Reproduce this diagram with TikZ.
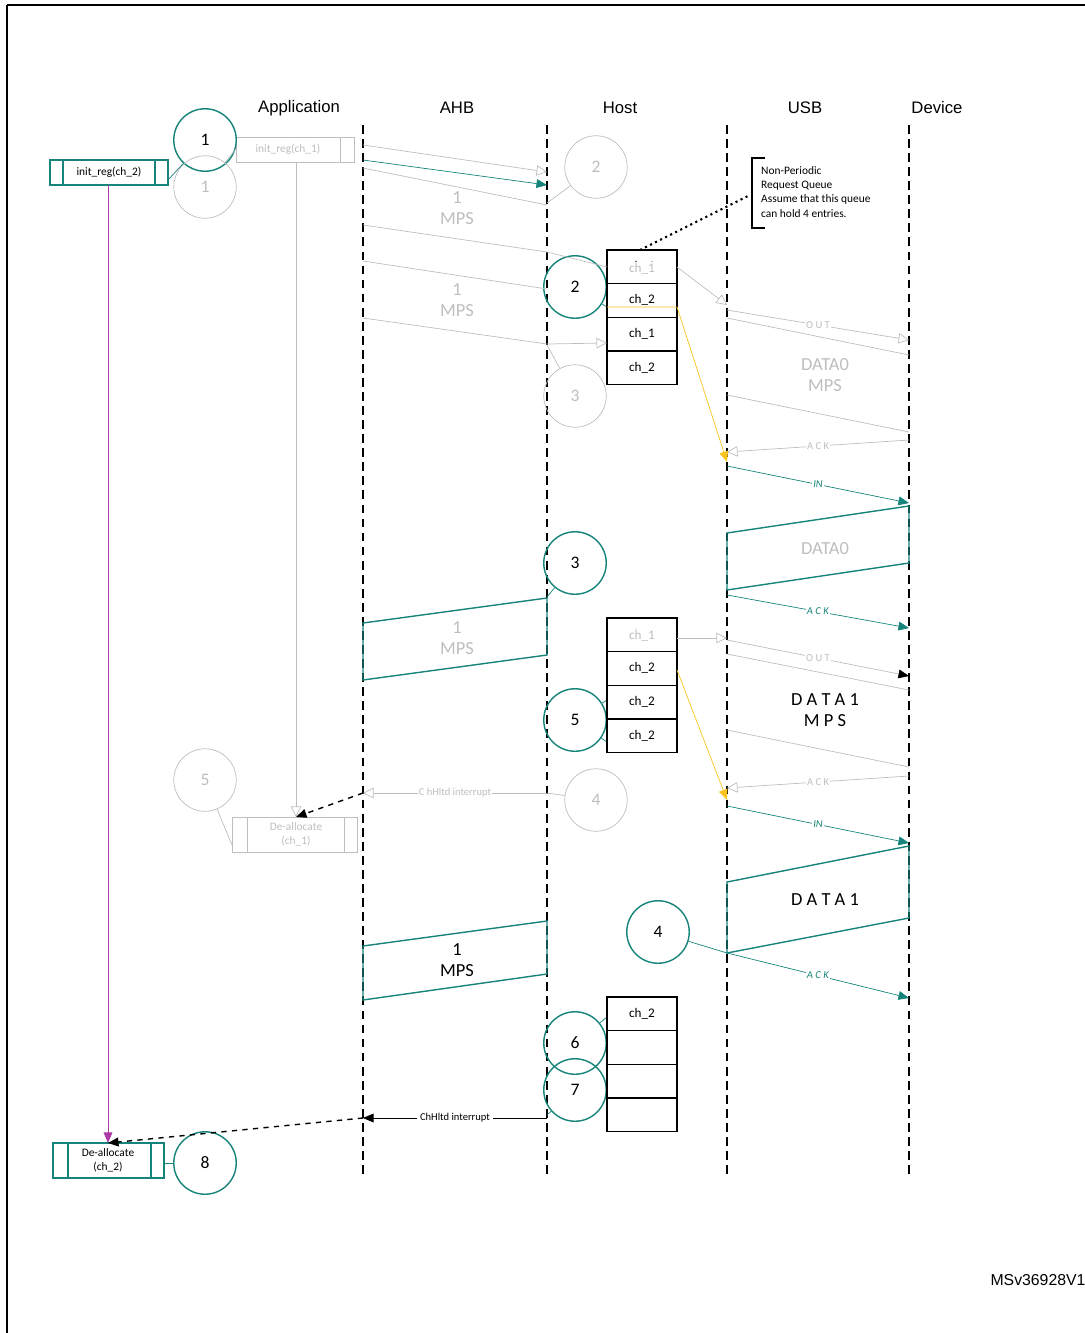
\documentclass[tikz,border=0pt]{standalone}
\usepackage{fontspec}
\setmainfont{Carlito}
\newfontfamily\arialf{Liberation Sans}
\usetikzlibrary{arrows.meta,calc}
\definecolor{teal}{RGB}{22,132,122}
\definecolor{ghost}{RGB}{190,190,190}
\definecolor{amber}{RGB}{250,195,30}
\definecolor{violet}{RGB}{170,60,170}
\tikzset{
  lifeline/.style={line width=1.2pt, dash pattern=on 5pt off 3pt},
  head/.style={font=\arialf\fontsize{9.5}{11}\selectfont},
  tnum/.style={draw=teal, thick, circle, minimum size=1.25cm, inner sep=0pt, font=\fontsize{10}{12}\selectfont},
  gnum/.style={draw=ghost, circle, minimum size=1.25cm, inner sep=0pt, text=ghost, font=\fontsize{10}{12}\selectfont},
  gline/.style={draw=ghost, thin},
  tline/.style={draw=teal, thin},
  gopen/.style={ghost, -{Triangle[open, length=6pt, width=6pt]}},
  tfill/.style={teal, -{Triangle[length=6pt, width=5pt]}},
  qtext/.style={font=\fontsize{7.5}{9}\selectfont},
  btext/.style={font=\fontsize{6.5}{8}\selectfont, align=center},
  mps/.style={font=\fontsize{10.5}{12}\selectfont, align=center, text=ghost},
  msg/.style={font=\fontsize{6}{7}\selectfont, fill=white, inner sep=0.5pt},
}
\begin{document}
\begin{tikzpicture}[x=0.02cm, y=-0.02cm]
  \useasboundingbox (0,0) rectangle (1085,1333);
  % frame
  \draw[thick] (7,5) -- (7,1340);
  \draw[thick] (7,5) -- (1090,5);

  % lifelines
  \foreach \n/\x in {ahbL/363, host/547, usb/727, dev/909} {
    \coordinate (\n t) at (\x,125);
    \coordinate (\n b) at (\x,1175);
    \draw[lifeline] (\n t) -- (\n b);
  }
  \node[head] (hApp) at (299,108) {Application};
  \node[head] (hAhb) at (457,108) {AHB};
  \node[head] (hHost) at (620,108) {Host};
  \node[head] (hUsb) at (805,108) {USB};
  \node[head] (hDev) at (937,108) {Device};

  % application boxes
  \draw[teal, thick] (50,160) rectangle (168,185) (63,160) -- (63,185) (155,160) -- (155,185);
  \node[btext] (init2) at (109,172.5) {init\_reg(ch\_2)};
  \draw[ghost] (236,137) rectangle (354,162) (340,137) -- (340,162);
  \node[btext, text=ghost] (init1) at (288,149.5) {init\_reg(ch\_1)};
  \draw[ghost] (232,817) rectangle (357,852) (247,817) -- (247,852) (344,817) -- (344,852);
  \node[btext, text=ghost] (dealloc1) at (296,834.5) {De-allocate\\(ch\_1)};
  \draw[teal, thick] (53,1143) rectangle (164,1178) (68,1143) -- (68,1178) (151,1143) -- (151,1178);
  \node[btext] (dealloc2) at (108,1160.5) {De-allocate\\(ch\_2)};
  \coordinate (i2bot) at (108,185);
  \coordinate (d2top) at (108,1143);
  \coordinate (i1bot) at (296,162);
  \coordinate (d1top) at (296,817);
  \draw[violet, -{Triangle[length=6pt, width=5pt]}] (i2bot) -- (d2top);
  \draw[gopen] (i1bot) -- (d1top);

  % numbered circles
  \node[tnum] (c1) at (205,140) {1};
  \node[gnum] (g1) at (205,187) {1};
  \node[gnum] (g2) at (596,167) {2};
  \node[tnum] (c2) at (575,287) {2};
  \node[gnum] (g3) at (575,396) {3};
  \node[tnum] (c3) at (575,563) {3};
  \node[tnum] (c5) at (575,720) {5};
  \node[gnum] (g4) at (596,800) {4};
  \node[gnum] (g5) at (205,780) {5};
  \node[tnum] (c4) at (658,932) {4};
  \node[tnum] (c6) at (575,1043) {6};
  \node[tnum] (c7) at (575,1090) {7};
  \node[tnum] (c8) at (205,1163) {8};
  \draw[tline] (c1) -- (168,180);
  \draw[gline] (g1) -- (236,149);
  \draw[gline] (g2) -- (547,203);
  \draw[tline] (c2) -- (607,307);
  \draw[gline] (g3) -- (547,345);
  \draw[tline] (c3) -- (547,597);
  \draw[tline] (c5) -- (607,700);
  \draw[tline] (c5) -- (607,742);
  \draw[gline] (g4) -- (547,793);
  \draw[gline] (g5) -- (232,845);
  \draw[tline] (c4) -- (727,953);
  \draw[tline] (c6) -- (607,1017);
  \draw[tline] (c7) -- (547,1115);
  \draw[tline] (c8) -- (164,1163);

  % request queues
  \foreach \q/\y/\a/\b/\c/\d in {qA/250/ch\_1/ch\_2/ch\_1/ch\_2, qB/618/ch\_1/ch\_2/ch\_2/ch\_2, qC/997/ch\_2///} {
    \draw[thick] (607,\y) rectangle (677,\y+134.5);
    \foreach \k in {1,2,3}
      \draw[thick] (607,\y+33.6*\k) -- (677,\y+33.6*\k);
    \node[qtext] (\q1) at (642,\y+17) {\a};
    \node[qtext] (\q2) at (642,\y+50) {\b};
    \node[qtext] (\q3) at (642,\y+84) {\c};
    \node[qtext] (\q4) at (642,\y+118) {\d};
  }
  \node[qtext, fill=white, text=ghost, inner sep=1pt] at (642,269) {ch\_1};
  \node[qtext, fill=white, text=ghost, inner sep=1pt] at (642,636) {ch\_1};

  % note
  \draw[thick] (765,158) -- (752,158) -- (752,228) -- (765,228);
  \node[font=\fontsize{6.5}{8}\selectfont, align=left, anchor=west] (note) at (755,192)
    {Non-Periodic\\Request Queue\\Assume that this queue\\can hold 4 entries.};
  \draw[line width=1.2pt, dotted] (640,250) -- (750,195);

  % AHB transfers, first channel pass
  \draw[gopen] (363,145) -- (547,172);
  \draw[tfill] (363,160) -- (547,185);
  \draw[gline] (363,168) -- (547,205);
  \node[mps] (m1) at (457,208) {1\\MPS};
  \draw[gline] (363,225) -- (547,252) -- (607,267);
  \draw[gline] (363,261) -- (547,289);
  \node[mps] (m2) at (457,300) {1\\MPS};
  \draw[gline] (363,318) -- (547,344);
  \draw[gopen] (547,344) -- (607,343);

  % USB, first pass
  \draw[gopen] (677,267) -- (727,305);
  \draw[gopen] (727,310) -- node[msg, text=ghost] {O U T} (909,340);
  \draw[gline] (727,318) -- (909,355);
  \node[mps] (d0a) at (825,375) {DATA0\\MPS};
  \draw[gline] (727,395) -- (909,432);
  \draw[gopen] (909,440) -- node[msg, text=ghost] {A C K} (727,452);
  \draw[amber, -{Triangle[length=6pt, width=5pt]}] (607,307) -- (677,307) -- (727,462);
  \draw[tfill] (727,466) -- node[msg] {\textit{IN}} (909,503);
  \draw[teal, thick] (727,533) -- (909,506) -- (909,563) -- (727,590) -- cycle;
  \node[mps] (d0b) at (825,549) {DATA0};
  \draw[tfill] (727,595) -- node[msg] {\textit{A C K}} (909,628);

  % AHB first IN data
  \draw[teal, thick] (363,623) -- (547,598) -- (547,655) -- (363,680) -- cycle;
  \node[mps] (m3) at (457,638) {1\\MPS};

  % USB, second pass
  \draw[gopen] (677,638) -- (727,638);
  \draw[ghost, -{Triangle[length=6pt, width=5pt, black]}] (727,640) -- node[msg, text=ghost] {O U T} (909,676);
  \draw[gline] (727,654) -- (909,690);
  \node[mps, text=black] (d1a) at (825,710) {D A T A 1\\M P S};
  \draw[gline] (727,730) -- (909,767);
  \draw[gopen] (909,776) -- node[msg, text=ghost] {A C K} (727,788);
  \draw[amber, -{Triangle[length=6pt, width=5pt]}] (677,670) -- (727,800);
  \draw[tfill] (727,806) -- node[msg] {\textit{IN}} (909,843);
  \draw[teal, thick] (727,882) -- (909,846) -- (909,918) -- (727,953) -- cycle;
  \node[mps, text=black] (d1b) at (825,900) {D A T A 1};
  \draw[tfill] (727,953) -- node[msg] {\textit{A C K}} (909,998);

  % halt of ch_1
  \draw[gopen] (547,793) -- node[msg, text=ghost] {C hHltd interrupt} (363,793);
  \draw[thick, dashed, -{Triangle[length=6pt, width=5pt]}] (363,793) -- (d1top);

  % AHB second IN data
  \draw[teal, thick] (363,946) -- (547,921) -- (547,974) -- (363,1000) -- cycle;
  \node[mps, text=black] (m4) at (457,960) {1\\MPS};

  % halt of ch_2
  \draw[-{Triangle[length=6pt, width=5pt]}] (547,1118) -- node[msg, inner sep=2pt] {ChHltd interrupt} (363,1118);
  \draw[thick, dashed, -{Triangle[length=6pt, width=5pt]}] (363,1118) -- (d2top);

  \node[font=\arialf\fontsize{9}{11}\selectfont] (tag) at (1038,1280) {MSv36928V1};
\end{tikzpicture}
\end{document}
